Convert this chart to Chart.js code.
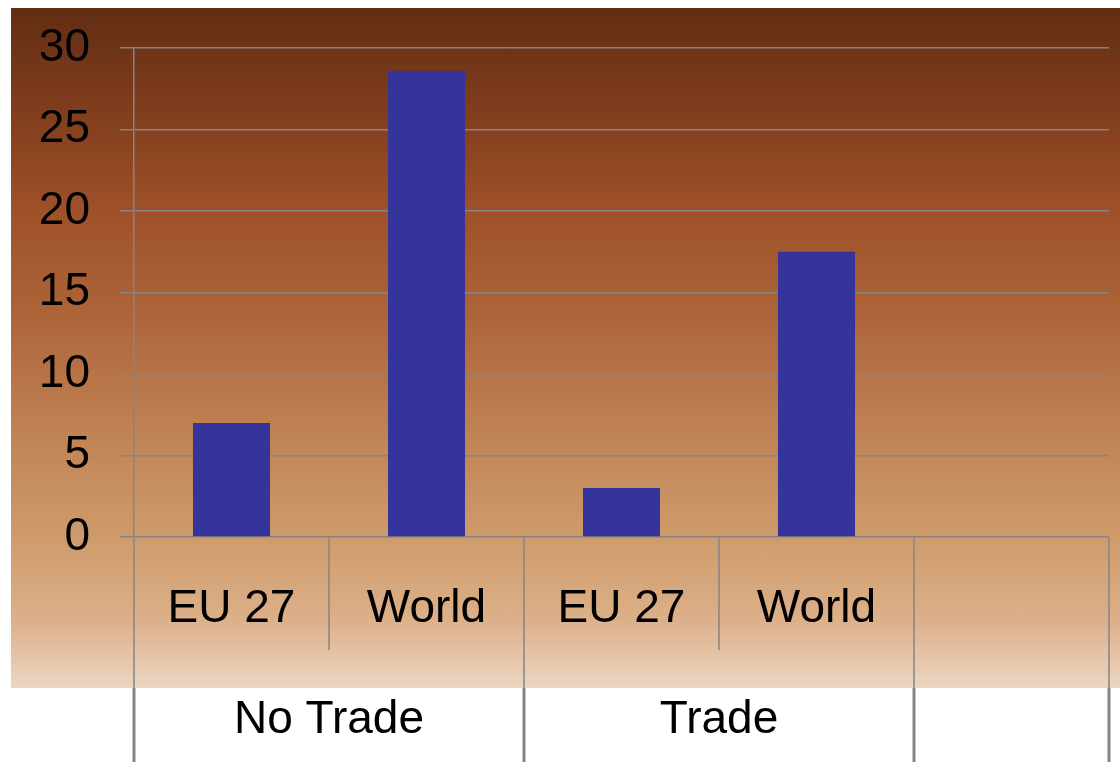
<!DOCTYPE html>
<html>
<head>
<meta charset="utf-8">
<script src="https://cdn.jsdelivr.net/npm/chart.js@4.4.1/dist/chart.umd.min.js"></script>
<style>
  html, body { margin: 0; padding: 0; background: #ffffff; }
  #wrap { position: relative; width: 1120px; height: 762px; overflow: hidden; }
  #bg {
    position: absolute; left: 11px; top: 8px; width: 1109px; height: 680px;
    background: linear-gradient(to bottom,
      #622d12 0%, #6e3418 6%, #8a4320 20%, #9f5129 30%, #ad6438 45%,
      #bf8253 62%, #cf9b6b 78%, #dcb089 90%, #ecd6c2 100%);
  }
  #c { position: absolute; left: 0; top: 0; }
</style>
</head>
<body>
<div id="wrap">
  <div id="bg"></div>
  <canvas id="c" width="1120" height="762"></canvas>
</div>
<script>
// ---- data ----
const categories = ['EU 27', 'World', 'EU 27', 'World', ''];
const groupLabels = ['No Trade', 'No Trade', 'Trade', 'Trade', ''];
const values = [7, 28.6, 3, 17.5, null];
const yTicks = [0, 5, 10, 15, 20, 25, 30];

const FONT = "'Liberation Sans', Arial, sans-serif";
const GRID = '#858585';

const separatorPlugin = {
  id: 'separators',
  afterDraw(chart) {
    const ctx = chart.ctx;
    const x = chart.scales.x;
    const area = chart.chartArea;
    const n = categories.length;
    const bnd = [];
    for (let i = 0; i <= n; i++) {
      if (i === 0) bnd.push(x.left);
      else if (i === n) bnd.push(x.right);
      else bnd.push((x.getPixelForValue(i - 1) + x.getPixelForValue(i)) / 2);
    }
    const top = area.bottom;
    const midEnd = 650, bgEnd = 688, bottom = chart.height;
    ctx.save();
    ctx.strokeStyle = GRID;
    const runs = [];
    let s = 0;
    for (let i = 1; i <= n; i++) {
      if (i === n || groupLabels[i] !== groupLabels[s]) { runs.push([s, i]); s = i; }
    }
    const groupEdges = new Set();
    runs.forEach(r => { groupEdges.add(r[0]); groupEdges.add(r[1]); });
    for (let i = 0; i <= n; i++) {
      const px = Math.round(bnd[i]);
      if (groupEdges.has(i)) {
        ctx.lineWidth = 1.5;
        ctx.beginPath(); ctx.moveTo(px, top); ctx.lineTo(px, bgEnd); ctx.stroke();
        ctx.lineWidth = 3;
        ctx.beginPath(); ctx.moveTo(px, bgEnd); ctx.lineTo(px, bottom); ctx.stroke();
      } else {
        ctx.lineWidth = 1.5;
        ctx.beginPath(); ctx.moveTo(px, top); ctx.lineTo(px, midEnd); ctx.stroke();
      }
    }
    ctx.fillStyle = '#000';
    ctx.font = '46px ' + FONT;
    ctx.textAlign = 'center';
    ctx.textBaseline = 'middle';
    runs.forEach(r => {
      const label = groupLabels[r[0]];
      if (label) ctx.fillText(label, (bnd[r[0]] + bnd[r[1]]) / 2, 720);
    });
    ctx.restore();
  }
};

new Chart(document.getElementById('c'), {
  type: 'bar',
  data: {
    labels: categories,
    datasets: [{
      data: values,
      backgroundColor: '#35349a',
      borderWidth: 0,
      barPercentage: 0.395,
      categoryPercentage: 1.0
    }]
  },
  options: {
    responsive: false,
    animation: false,
    layout: { padding: { top: 48, right: 11, bottom: 0, left: 0 } },
    plugins: { legend: { display: false }, tooltip: { enabled: false } },
    scales: {
      y: {
        min: 0, max: 30,
        afterBuildTicks(scale) { scale.ticks = yTicks.map(v => ({ value: v })); },
        afterFit(scale) { scale.width = 134; },
        grid: { color: GRID, lineWidth: 1.5, tickLength: 14, drawTicks: true },
        border: { display: true, color: GRID, width: 1.5 },
        ticks: { font: { family: FONT, size: 46, lineHeight: 0.7 }, color: '#000', padding: 30 }
      },
      x: {
        offset: true,
        afterFit(scale) { scale.height = 225; },
        grid: { display: false },
        border: { display: false },
        ticks: { font: { family: FONT, size: 46 }, color: '#000', padding: 37, maxRotation: 0, autoSkip: false }
      }
    }
  },
  plugins: [separatorPlugin]
});
</script>
</body>
</html>
